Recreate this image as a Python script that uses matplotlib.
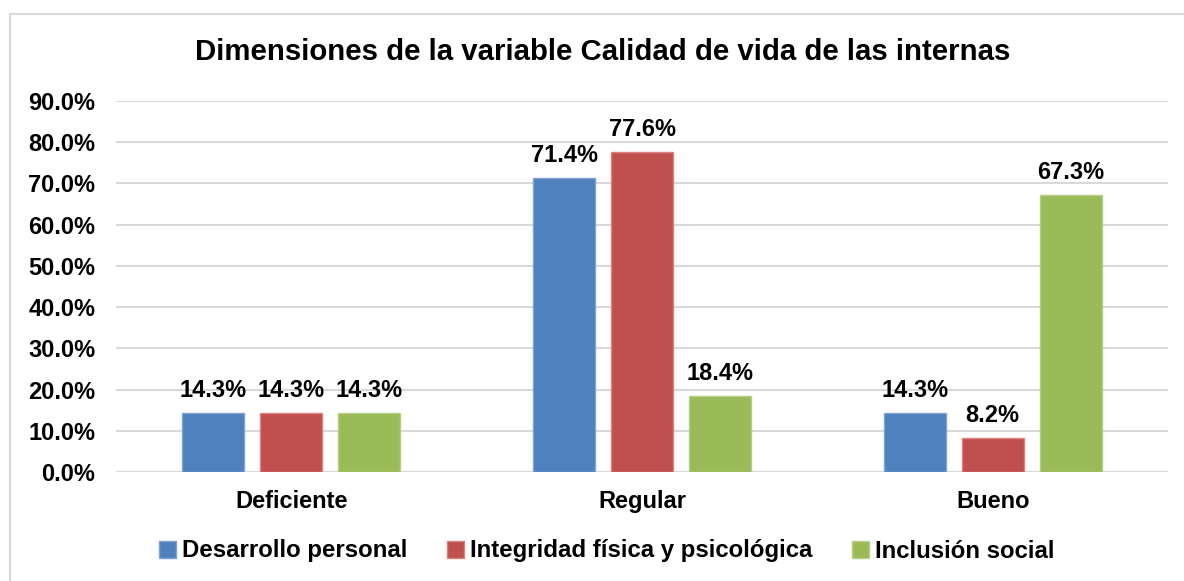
import matplotlib
matplotlib.use("Agg")
import matplotlib.pyplot as plt
import numpy as np
from matplotlib.patches import Rectangle

categories = ["Deficiente", "Regular", "Bueno"]
series_names = ["Desarrollo personal", "Integridad física y psicológica", "Inclusión social"]
desarrollo = [14.3, 71.4, 14.3]
integridad = [14.3, 77.6, 8.2]
inclusion = [14.3, 18.4, 67.3]
colors = ["#4F81BD", "#C0504D", "#9BBB59"]
edge_colors = ["#7FA3D3", "#D88381", "#B6CE85"]
yticks = [0, 10, 20, 30, 40, 50, 60, 70, 80, 90]

plt.rcParams['font.family'] = ['Liberation Sans', 'DejaVu Sans']

fig = plt.figure(figsize=(11.84, 5.81), dpi=100)
fig.patches.append(Rectangle((10/1184, -0.1), 1.2, 1.1 - 14/581, transform=fig.transFigure,
                             fill=False, edgecolor="#D9D9D9", linewidth=1.5))
ax = fig.add_axes([116/1184, 1 - 472/581, (1168 - 116)/1184, (472 - 101)/581])

x = np.arange(len(categories))
w = 62/351
off = 78/351
for i, (vals, name) in enumerate(zip([desarrollo, integridad, inclusion], series_names)):
    pos = x + (i - 1) * off
    bars = ax.bar(pos, vals, width=w, color=colors[i], edgecolor=edge_colors[i],
                  linewidth=1, label=name, zorder=3)
    for b, v in zip(bars, vals):
        ax.text(b.get_x() + b.get_width()/2, v + 2.6, f"{v:.1f}%", ha="center", va="bottom",
                fontsize=17, fontweight="bold", color="black", zorder=4)

ax.set_xlim(-0.5, 2.5)
ax.set_ylim(0, 90)
ax.set_yticks(yticks)
ax.set_yticklabels([f"{t:.1f}%" for t in yticks], fontsize=17, fontweight="bold")
ax.set_xticks(x)
ax.set_xticklabels(categories, fontsize=17, fontweight="bold")
ax.tick_params(axis="both", length=0)
ax.tick_params(axis="y", pad=15)
ax.tick_params(axis="x", pad=13)
ax.grid(axis="y", color="#D9D9D9", linewidth=1.5, zorder=0)
for s in ax.spines.values():
    s.set_visible(False)

fig.text(603/1184, 1 - 52/581, "Dimensiones de la variable Calidad de vida de las internas",
         ha="center", va="center", fontsize=21.2, fontweight="bold")

leg = fig.legend(loc="center", bbox_to_anchor=(607/1184, 1 - 551/581), ncol=3, frameon=False,
                 prop={"size": 17.3, "weight": "bold"}, handlelength=0.7, handleheight=0.7,
                 handletextpad=0.25, columnspacing=1.65)

fig.savefig("out.png", dpi=100)
